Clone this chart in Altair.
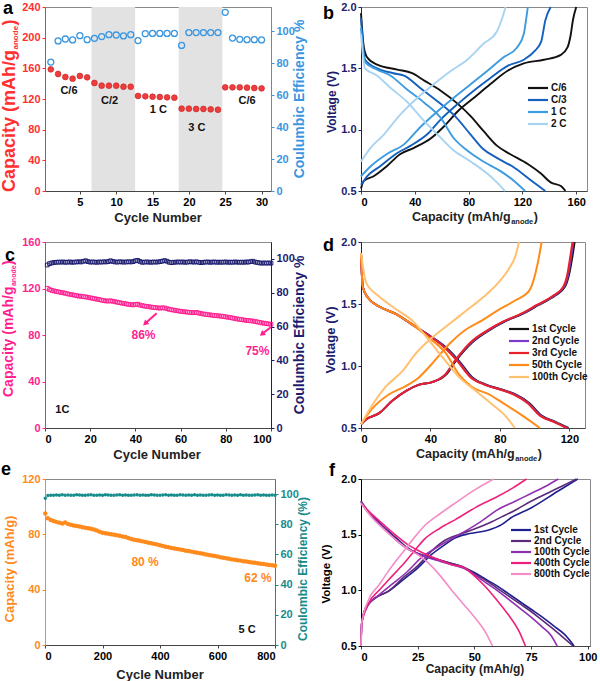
import altair as alt
import pandas as pd

FONT = "Liberation Sans"

# ---------------- data: panel a ----------------
a_cycle = list(range(1, 31))
a_capacity = [158.7, 152.6, 148.7, 146.5, 150.0, 148.3, 140.9, 137.4, 137.4, 137.4, 136.0, 136.0,
              124.0, 123.5, 123.0, 122.6, 122.2, 121.7, 107.4, 107.4, 107.0, 107.0, 106.5, 106.0,
              135.2, 135.2, 135.2, 134.8, 134.3, 133.9]
a_ce = [80.6, 93.8, 95.0, 94.4, 97.1, 94.6, 95.4, 96.5, 97.7, 97.5, 96.9, 97.7,
        94.0, 98.3, 98.5, 98.5, 98.5, 98.5, 91.0, 99.0, 99.0, 99.0, 99.0, 99.0,
        111.7, 95.6, 94.8, 94.6, 94.6, 94.4]
a_band_start = [6.6, 18.6]
a_band_end = [12.6, 24.6]
a_rate_text = ["C/6", "C/2", "1 C", "3 C", "C/6"]
a_rate_x = [3.5, 9.1, 15.8, 21.1, 28.0]
a_rate_y = [130, 117, 106, 82, 117]

# ---------------- data: panel b ----------------
b_series = ["C/6", "C/3", "1 C", "2 C"]
b_colors = ["#111111", "#1560bd", "#3d9be0", "#a8d4f2"]
b_dis_cap = {
    "C/6": [0, 2, 4.5, 12, 27, 38, 47, 59, 72, 81.5, 91, 101, 111, 124, 134, 141, 148.6, 152],
    "C/3": [0, 3, 12, 24, 32, 44, 57, 69, 81.5, 91, 101, 114, 126, 137],
    "1 C": [0, 3, 12, 22, 34, 47, 59, 69, 79, 91, 104, 114, 122],
    "2 C": [0, 3, 12, 22, 34, 47, 57, 69, 81.5, 94, 101, 107],
}
b_dis_v = {
    "C/6": [1.95, 1.68, 1.59, 1.53, 1.49, 1.46, 1.40, 1.32, 1.21, 1.11, 0.99, 0.87, 0.80, 0.72, 0.64, 0.57, 0.54, 0.50],
    "C/3": [1.91, 1.57, 1.50, 1.46, 1.44, 1.34, 1.23, 1.12, 0.96, 0.84, 0.77, 0.69, 0.59, 0.50],
    "1 C": [1.83, 1.55, 1.49, 1.44, 1.33, 1.22, 1.10, 0.93, 0.83, 0.74, 0.66, 0.58, 0.50],
    "2 C": [1.78, 1.50, 1.44, 1.34, 1.23, 1.07, 0.96, 0.83, 0.74, 0.64, 0.57, 0.50],
}
b_chg_cap = {
    "C/6": [0, 2, 9.4, 19, 29, 39, 52, 62, 72, 84, 96, 109, 121, 136, 148.6, 153.5, 156, 157.5, 160],
    "C/3": [0, 4.5, 14, 27, 37, 49, 59, 72, 84, 96, 109, 121, 129, 134, 137, 141],
    "1 C": [0, 7, 19, 32, 44, 57, 69, 81.5, 94, 106, 116, 121, 123, 124],
    "2 C": [0, 7, 17, 29, 42, 54, 67, 79, 91, 101, 105, 107.5],
}
b_chg_v = {
    "C/6": [0.52, 0.58, 0.62, 0.70, 0.80, 0.85, 0.93, 1.03, 1.15, 1.26, 1.37, 1.48, 1.54, 1.57, 1.61, 1.67, 1.78, 1.89, 2.0],
    "C/3": [0.55, 0.62, 0.70, 0.81, 0.87, 0.96, 1.08, 1.21, 1.32, 1.42, 1.52, 1.57, 1.64, 1.72, 1.89, 2.0],
    "1 C": [0.62, 0.70, 0.80, 0.88, 1.02, 1.15, 1.26, 1.37, 1.48, 1.59, 1.67, 1.78, 1.92, 2.0],
    "2 C": [0.74, 0.85, 0.96, 1.12, 1.26, 1.37, 1.48, 1.57, 1.70, 1.80, 1.91, 2.0],
}

# ---------------- data: panel c ----------------
c_cycle = list(range(1, 101))
c_capacity = [
    120.2, 119.1, 118.4, 117.9, 117.5, 117.1, 116.6, 116.3, 115.9, 115.4,
    115.0, 114.6, 114.3, 113.8, 113.5, 113.2, 112.9, 112.8, 112.4, 112.0,
    111.6, 111.2, 110.8, 110.4, 110.0, 109.6, 109.3, 109.2, 109.4, 109.0,
    108.6, 108.2, 107.8, 107.4, 107.1, 106.7, 106.4, 106.1, 105.9, 106.2,
    106.5, 105.8, 105.3, 104.9, 104.6, 104.3, 104.0, 103.7, 103.5, 103.3,
    103.1, 103.4, 103.2, 102.6, 102.1, 101.7, 101.4, 101.0, 100.7, 100.4,
    100.1, 99.9, 99.7, 99.5, 99.3, 99.2, 99.4, 98.9, 98.5, 98.1,
    97.8, 97.5, 97.3, 97.0, 96.8, 96.6, 96.4, 96.2, 95.9, 95.6,
    95.3, 95.0, 94.6, 94.2, 93.8, 93.5, 93.2, 92.9, 92.6, 92.4,
    92.2, 92.0, 91.6, 91.2, 90.8, 90.4, 90.1, 89.8, 89.5, 89.2]
c_ce = [
    96.4, 97.2, 97.6, 97.9, 98.0, 98.1, 98.1, 98.2, 98.0, 98.1,
    98.2, 98.0, 98.1, 98.2, 98.3, 98.2, 98.6, 98.9, 98.4, 98.1,
    98.2, 98.1, 98.0, 98.2, 98.1, 98.3, 98.2, 98.4, 98.9, 98.5,
    98.2, 98.1, 98.3, 98.2, 98.1, 98.2, 98.3, 98.2, 98.4, 98.9,
    99.1, 98.5, 98.0, 98.1, 98.2, 98.1, 98.0, 98.2, 98.1, 98.2,
    98.4, 98.7, 99.0, 98.6, 98.0, 97.8, 98.0, 98.1, 98.2, 98.1,
    98.2, 98.0, 98.1, 98.3, 98.2, 98.1, 98.3, 98.0, 97.8, 98.0,
    98.1, 98.2, 98.0, 98.1, 98.2, 98.0, 98.1, 98.0, 98.1, 98.2,
    98.0, 98.1, 98.0, 98.2, 98.1, 98.0, 98.1, 98.0, 98.2, 98.1,
    98.4, 98.6, 98.1, 97.9, 97.6, 97.5, 97.6, 97.5, 97.6, 97.5]
c_note_text = ["86%", "75%"]
c_note_x = [43.6, 94.0]
c_note_y = [79.6, 66.6]
c_arrow_x0 = [49.4, 99.9]
c_arrow_y0 = [98.8, 86.7]
c_arrow_x1 = [44.3, 96.0]
c_arrow_y1 = [89.8, 80.8]
c_arrow_angle = [228, 232]

# ---------------- data: panel d ----------------
d_series = ["1st Cycle", "2nd Cycle", "3rd Cycle", "50th Cycle", "100th Cycle"]
d_colors = ["#111111", "#7a3cc8", "#e8202a", "#ff8c1a", "#ffc070"]
d_dis_cap = {
    "1st Cycle": [0, 1, 4, 10.5, 20, 30, 39, 49, 56.5, 64, 72, 81, 89, 97, 104, 112, 119.5],
    "2nd Cycle": [0, 1, 4, 10.5, 20, 30, 39, 48.5, 56, 63.5, 71.5, 80.5, 88.5, 96.5, 103.5, 111.5, 119],
    "3rd Cycle": [0, 1, 4, 10.5, 20, 30, 38.5, 48, 55.5, 63, 71, 80, 88, 96, 103, 111, 118.5],
    "50th Cycle": [0, 1, 4, 10.5, 20, 30, 39, 49, 56.5, 64, 74, 83, 93, 103],
    "100th Cycle": [0, 3, 10.5, 20, 30, 39, 47, 56.5, 66, 75.6, 83, 88.6],
}
d_dis_v = {
    "1st Cycle": [1.91, 1.64, 1.55, 1.48, 1.42, 1.33, 1.25, 1.15, 1.04, 0.91, 0.85, 0.81, 0.77, 0.70, 0.60, 0.55, 0.50],
    "2nd Cycle": [1.91, 1.64, 1.55, 1.48, 1.42, 1.33, 1.25, 1.15, 1.04, 0.91, 0.85, 0.81, 0.77, 0.70, 0.60, 0.55, 0.50],
    "3rd Cycle": [1.91, 1.64, 1.55, 1.48, 1.42, 1.33, 1.25, 1.15, 1.04, 0.91, 0.85, 0.81, 0.77, 0.70, 0.60, 0.55, 0.50],
    "50th Cycle": [1.91, 1.64, 1.55, 1.48, 1.42, 1.33, 1.23, 1.10, 0.93, 0.83, 0.77, 0.69, 0.60, 0.50],
    "100th Cycle": [1.91, 1.67, 1.56, 1.46, 1.36, 1.21, 1.07, 0.91, 0.80, 0.69, 0.60, 0.50],
}
d_chg_cap = {
    "1st Cycle": [0, 3, 10.5, 18, 26, 33.5, 41, 49, 54.5, 64, 74, 83, 93, 102, 112, 117.5, 120, 121.7, 123],
    "2nd Cycle": [0, 3, 10.5, 18, 26, 33.5, 41, 48.5, 54, 63.5, 73.5, 82.5, 92.5, 101.5, 111.5, 117, 119.5, 121, 122.3],
    "3rd Cycle": [0, 3, 10.5, 18, 26, 33.5, 41, 48.5, 54, 63, 73, 82, 92, 101, 111, 116.5, 119, 120.5, 121.8],
    "50th Cycle": [0, 6.7, 16, 26, 33.5, 41, 51, 60, 70, 79, 89, 97, 100.5, 102.5, 104],
    "100th Cycle": [0, 6.7, 14, 24, 31.5, 41, 51, 60, 70, 79, 85, 89, 91],
}
d_chg_v = {
    "1st Cycle": [0.53, 0.57, 0.62, 0.72, 0.80, 0.85, 0.87, 0.93, 1.04, 1.19, 1.29, 1.36, 1.42, 1.49, 1.57, 1.64, 1.75, 1.88, 2.0],
    "2nd Cycle": [0.53, 0.57, 0.62, 0.72, 0.80, 0.85, 0.87, 0.93, 1.04, 1.19, 1.29, 1.36, 1.42, 1.49, 1.57, 1.64, 1.75, 1.88, 2.0],
    "3rd Cycle": [0.53, 0.57, 0.62, 0.72, 0.80, 0.85, 0.87, 0.93, 1.04, 1.19, 1.29, 1.36, 1.42, 1.49, 1.57, 1.64, 1.75, 1.88, 2.0],
    "50th Cycle": [0.53, 0.66, 0.77, 0.84, 0.91, 1.02, 1.18, 1.29, 1.37, 1.45, 1.53, 1.61, 1.75, 1.88, 2.0],
    "100th Cycle": [0.53, 0.69, 0.83, 0.96, 1.10, 1.23, 1.34, 1.44, 1.55, 1.67, 1.78, 1.89, 2.0],
}

# ---------------- data: panel e ----------------
e_cycle = [1] + list(range(10, 801, 10))
e_capacity = [
    95.0, 91.6, 90.4, 89.6, 89.0, 88.4, 87.9, 88.6, 87.4, 86.9,
    86.4, 86.0, 85.6, 85.2, 84.8, 84.4, 84.0, 83.5, 82.8, 81.9,
    81.2, 80.8, 80.4, 80.0, 79.7, 79.3, 78.9, 78.5, 78.0, 77.3,
    76.6, 76.1, 75.7, 75.3, 74.9, 74.4, 73.9, 73.5, 73.1, 72.6,
    72.1, 71.6, 71.1, 70.6, 70.2, 69.8, 69.4, 69.0, 68.6, 68.2,
    67.9, 67.5, 67.1, 66.7, 66.3, 65.9, 65.5, 65.1, 64.7, 64.3,
    63.9, 63.5, 63.1, 62.7, 62.3, 61.9, 61.6, 61.3, 61.0, 60.6,
    60.3, 60.0, 59.7, 59.4, 59.1, 58.8, 58.5, 58.2, 57.9, 57.6,
    57.3]
e_ce = [
    97.3, 99.0, 99.2, 99.3, 99.4, 99.2, 99.5, 99.3, 99.4, 99.2,
    99.3, 99.5, 99.4, 99.2, 99.3, 99.4, 99.5, 99.3, 99.2, 99.4,
    99.3, 99.5, 99.4, 99.3, 99.2, 99.4, 99.5, 99.3, 99.4, 99.2,
    99.3, 99.4, 99.5, 99.3, 99.4, 99.2, 99.3, 99.5, 99.4, 99.3,
    99.2, 99.4, 99.5, 99.3, 99.4, 99.2, 99.3, 99.5, 99.4, 99.3,
    99.4, 99.2, 99.5, 99.3, 99.4, 99.3, 99.2, 99.4, 99.5, 99.3,
    99.4, 99.2, 99.3, 99.5, 99.4, 99.3, 99.4, 99.2, 99.5, 99.3,
    99.4, 99.3, 99.2, 99.4, 99.5, 99.3, 99.4, 99.2, 99.3, 99.4,
    99.3]
e_note_text = ["80 %", "62 %"]
e_note_x = [348, 741]
e_note_y = [60, 48.4]

# ---------------- data: panel f ----------------
f_series = ["1st Cycle", "2nd Cycle", "100th Cycle", "400th Cycle", "800th Cycle"]
f_colors = ["#1f1f8f", "#5b2a7a", "#9030b0", "#f0207a", "#f58cc8"]
f_dis_cap = {
    "1st Cycle": [0, 2, 5, 10, 15, 20, 25, 30, 35, 40, 45, 50, 55, 60, 65, 70, 75, 80, 85, 90, 94],
    "2nd Cycle": [0, 2, 5, 10, 15, 20, 25, 30, 35, 40, 45, 50, 55, 60, 65, 70, 75, 80, 85, 89, 93.5],
    "100th Cycle": [0, 5, 10, 15, 20, 25, 30, 35, 40, 45, 50, 55, 60, 65, 70, 75, 80, 84, 86.5],
    "400th Cycle": [0, 5, 10, 15, 20, 25, 30, 35, 40, 45, 50, 55, 60, 65, 70, 72.5],
    "800th Cycle": [0, 5, 10, 15, 20, 25, 30, 35, 40, 45, 50, 55, 58],
}
f_dis_v = {
    "1st Cycle": [1.80, 1.74, 1.67, 1.57, 1.48, 1.39, 1.33, 1.30, 1.27, 1.24, 1.21, 1.16, 1.10, 1.04, 0.97, 0.90, 0.83, 0.76, 0.68, 0.60, 0.50],
    "2nd Cycle": [1.80, 1.73, 1.66, 1.56, 1.47, 1.38, 1.33, 1.30, 1.27, 1.24, 1.21, 1.15, 1.09, 1.02, 0.95, 0.88, 0.81, 0.73, 0.65, 0.58, 0.50],
    "100th Cycle": [1.80, 1.66, 1.56, 1.46, 1.38, 1.33, 1.29, 1.26, 1.23, 1.20, 1.14, 1.07, 1.00, 0.92, 0.84, 0.76, 0.67, 0.59, 0.50],
    "400th Cycle": [1.78, 1.68, 1.59, 1.50, 1.42, 1.36, 1.31, 1.27, 1.23, 1.21, 1.13, 1.03, 0.91, 0.78, 0.62, 0.50],
    "800th Cycle": [1.78, 1.65, 1.55, 1.46, 1.38, 1.32, 1.24, 1.13, 1.00, 0.88, 0.76, 0.62, 0.50],
}
f_chg_cap = {
    "1st Cycle": [0, 0.3, 2, 6.3, 12, 19.5, 25, 31, 37, 41.4, 48, 56, 62, 66, 75, 86.8, 95.6],
    "2nd Cycle": [0, 0.3, 2, 6, 12, 19, 25, 31, 37, 43, 50, 56, 62, 68, 75, 82, 89, 95],
    "100th Cycle": [0, 0.3, 3, 8, 14, 20, 27, 33, 37, 45, 53, 60, 68, 75, 81, 87],
    "400th Cycle": [0, 0.3, 3, 8, 12, 18, 23, 28, 35, 42, 51, 60, 67, 73],
    "800th Cycle": [0, 0.3, 3, 8, 12, 18, 23, 28, 35, 42, 50, 58.5],
}
f_chg_v = {
    "1st Cycle": [0.50, 0.70, 0.84, 0.93, 0.99, 1.11, 1.20, 1.32, 1.41, 1.47, 1.51, 1.54, 1.59, 1.65, 1.74, 1.89, 2.0],
    "2nd Cycle": [0.50, 0.70, 0.84, 0.93, 0.99, 1.12, 1.22, 1.35, 1.45, 1.50, 1.55, 1.60, 1.66, 1.72, 1.80, 1.87, 1.94, 2.0],
    "100th Cycle": [0.50, 0.70, 0.86, 0.96, 1.06, 1.16, 1.30, 1.38, 1.43, 1.52, 1.62, 1.72, 1.80, 1.87, 1.93, 2.0],
    "400th Cycle": [0.50, 0.70, 0.87, 1.00, 1.09, 1.22, 1.34, 1.46, 1.56, 1.64, 1.75, 1.84, 1.92, 2.0],
    "800th Cycle": [0.50, 0.70, 0.90, 1.05, 1.17, 1.33, 1.46, 1.58, 1.69, 1.79, 1.90, 2.0],
}

# ---------------- helpers ----------------
EM = {' ': .278, '(': .333, ')': .333, '/': .278, '%': .889, 'A': .722, 'C': .722, 'E': .667,
      'N': .722, 'V': .667, 'a': .556, 'b': .611, 'c': .556, 'd': .611, 'e': .556, 'f': .333,
      'g': .611, 'h': .611, 'i': .278, 'l': .278, 'm': .889, 'n': .611, 'o': .611, 'p': .611,
      'r': .389, 't': .333, 'u': .611, 'y': .556}


def tw(s, size):
    return sum(EM.get(ch, 0.6) for ch in s) * size


def one():
    return alt.Chart(pd.DataFrame({"k": [0]}))


def txt(s, x, y, size, color, angle=0, align="left", baseline="alphabetic"):
    return one().mark_text(
        text=s, font=FONT, fontWeight="bold", fontSize=size, color=color,
        angle=angle, align=align, baseline=baseline
    ).encode(x=alt.value(x), y=alt.value(y))


def sub_h(main, sub, tail, x0, y, size, ssize, color):
    w1, w2 = tw(main, size), tw(sub, ssize)
    return [txt(main, x0, y, size, color), txt(sub, x0 + w1 + 0.5, y + 3, ssize, color),
            txt(tail, x0 + w1 + w2 + 1, y, size, color)]


def sub_v(main, sub, tail, x, y0, size, ssize, color):
    w1, w2 = tw(main, size), tw(sub, ssize)
    return [txt(main, x, y0, size, color, angle=270),
            txt(sub, x + 3, y0 - w1 - 0.5, ssize, color, angle=270),
            txt(tail, x, y0 - w1 - w2 - 1, size, color, angle=270)]


def legend(names, colors, x0, x1, y0, dy, size=10):
    out = []
    for i, (n, c) in enumerate(zip(names, colors)):
        y = y0 + i * dy
        out.append(one().mark_rule(color=c, strokeWidth=2.2).encode(
            x=alt.value(x0), x2=alt.value(x1), y=alt.value(y)))
        out.append(txt(n, x1 + 3, y, size, "#111", baseline="middle"))
    return out


def curve_df(series, dcap, dv, ccap, cv):
    rows = []
    for s in series:
        for c, v in zip(dcap[s], dv[s]):
            rows.append({"cap": c, "v": v, "series": s, "key": s + "_d"})
        for c, v in zip(ccap[s], cv[s]):
            rows.append({"cap": c, "v": v, "series": s, "key": s + "_c"})
    return pd.DataFrame(rows)


def xaxis(vals, fmt=None):
    kw = dict(values=vals, title=None, labelColor="black", domainColor="#444", tickColor="#444")
    if fmt:
        kw["format"] = fmt
    return alt.Axis(**kw)


def yaxis(vals, color, orient="left", fmt=None):
    kw = dict(values=vals, title=None, labelColor=color, domainColor=color, tickColor=color, orient=orient)
    if fmt:
        kw["format"] = fmt
    return alt.Axis(**kw)


def voltage_lines(df, series, colors, xdom, xvals, ycolor, sw):
    return alt.Chart(df).mark_line(strokeWidth=sw, interpolate="monotone").encode(
        x=alt.X("cap:Q", scale=alt.Scale(domain=xdom, nice=False, zero=False), axis=xaxis(xvals)),
        y=alt.Y("v:Q", scale=alt.Scale(domain=[0.5, 2.0], nice=False, zero=False),
                axis=yaxis([0.5, 1.0, 1.5, 2.0], ycolor, fmt=".1f")),
        color=alt.Color("series:N", scale=alt.Scale(domain=series, range=colors), legend=None),
        detail="key:N",
    )


RED, BLUE = "#f03c3c", "#3a96e0"
PINK, NAVY = "#ff1f8f", "#1c1c70"
ORANGE, TEAL = "#ff8a1c", "#178c8c"
VNAVY = "#1c1c6c"
LETTER = 18

# ---------------- panel a ----------------
Wa, Ha = 226, 184
df_a = pd.DataFrame({"cycle": a_cycle, "cap": a_capacity, "ce": a_ce})
xs_a = alt.Scale(domain=[0.2, 31.3], nice=False, zero=False)
ys_a = alt.Scale(domain=[0, 240], nice=False)
XA = xaxis([5, 10, 15, 20, 25, 30])
YA = yaxis([0, 40, 80, 120, 160, 200, 240], "#ff3030")
bands = alt.Chart(pd.DataFrame({"x0": a_band_start, "x1": a_band_end})).mark_rect(color="#e2e2e2").encode(
    x=alt.X("x0:Q", scale=xs_a, axis=XA), x2="x1:Q", y=alt.value(0), y2=alt.value(Ha))
cap_a = alt.Chart(df_a).mark_point(filled=True, size=34, color=RED, opacity=1, stroke="#c41c1c",
                                   strokeWidth=0.6).encode(
    x=alt.X("cycle:Q", scale=xs_a, axis=XA), y=alt.Y("cap:Q", scale=ys_a, axis=YA))
lbl_a = alt.Chart(pd.DataFrame({"x": a_rate_x, "y": a_rate_y, "t": a_rate_text})).mark_text(
    font=FONT, fontWeight="bold", fontSize=11, color="#111").encode(
    x=alt.X("x:Q", scale=xs_a, axis=XA), y=alt.Y("y:Q", scale=ys_a, axis=YA), text="t:N")
inner_a = alt.layer(bands, cap_a, lbl_a)
ce_a = alt.Chart(df_a).mark_point(filled=False, size=36, color=BLUE, strokeWidth=1.3, opacity=1).encode(
    x=alt.X("cycle:Q", scale=xs_a, axis=XA),
    y=alt.Y("ce:Q", scale=alt.Scale(domain=[0, 115], nice=False),
            axis=yaxis([0, 20, 40, 60, 80, 100], BLUE, orient="right")))
texts_a = sub_v("Capacity (mAh/g", "anode", ")", -30.5, Ha + 1, 18, 8, "#ff3030") + [
    txt("Coulumbic Efficiency %", Wa + 33, Ha / 2, 14, BLUE, angle=270, align="center"),
    txt("Cycle Number", Wa / 2, Ha + 31, 13, "#222", align="center"),
    txt("a", -42, 7, LETTER, "black")]
panel_a = alt.layer(inner_a, ce_a, *texts_a).resolve_scale(y="independent").properties(width=Wa, height=Ha)

# ---------------- panel b ----------------
Wb, Hb = 226, 184
df_b = curve_df(b_series, b_dis_cap, b_dis_v, b_chg_cap, b_chg_v)
lines_b = voltage_lines(df_b, b_series, b_colors, [0, 168], [0, 40, 80, 120, 160], VNAVY, 1.9)
texts_b = [txt("Voltage (V)", -25, 95, 12, VNAVY, angle=270, align="center")] + \
    sub_h("Capacity (mAh/g", "anode", ")", 51, 214, 12.5, 7.5, "#222") + \
    [txt("b", -38, 12, LETTER, "black")] + legend(b_series, b_colors, 167, 187, 81, 12)
panel_b = alt.layer(lines_b, *texts_b).properties(width=Wb, height=Hb)

# ---------------- panel c ----------------
Wc, Hc = 226, 186
df_c = pd.DataFrame({"cycle": c_cycle, "cap": c_capacity, "ce": c_ce})
xs_c = alt.Scale(domain=[0, 100], nice=False)
ys_c = alt.Scale(domain=[0, 160], nice=False)
XC = xaxis([0, 20, 40, 60, 80, 100])
YC = yaxis([0, 40, 80, 120, 160], PINK)
cap_c = alt.Chart(df_c).mark_point(shape="square", filled=False, size=14, color=PINK, strokeWidth=1,
                                   opacity=1).encode(
    x=alt.X("cycle:Q", scale=xs_c, axis=XC), y=alt.Y("cap:Q", scale=ys_c, axis=YC))
notes_c = alt.Chart(pd.DataFrame({"x": c_note_x, "y": c_note_y, "t": c_note_text})).mark_text(
    font=FONT, fontWeight="bold", fontSize=12, color=PINK).encode(
    x=alt.X("x:Q", scale=xs_c, axis=XC), y=alt.Y("y:Q", scale=ys_c, axis=YC), text="t:N")
arrow_df = pd.DataFrame({"x0": c_arrow_x0, "y0": c_arrow_y0, "x1": c_arrow_x1, "y1": c_arrow_y1,
                         "ang": c_arrow_angle})
arrows_c = alt.Chart(arrow_df).mark_rule(color=PINK, strokeWidth=2).encode(
    x=alt.X("x0:Q", scale=xs_c, axis=XC), y=alt.Y("y0:Q", scale=ys_c, axis=YC), x2="x1:Q", y2="y1:Q")
heads_c = alt.Chart(arrow_df).mark_point(shape="triangle-up", filled=True, size=40, color=PINK,
                                         opacity=1).encode(
    x=alt.X("x1:Q", scale=xs_c, axis=XC), y=alt.Y("y1:Q", scale=ys_c, axis=YC),
    angle=alt.Angle("ang:Q", scale=None))
onec = alt.Chart(pd.DataFrame({"x": [7.7], "y": [15.6], "t": ["1C"]})).mark_text(
    font=FONT, fontWeight="bold", fontSize=11, color="#111").encode(
    x=alt.X("x:Q", scale=xs_c, axis=XC), y=alt.Y("y:Q", scale=ys_c, axis=YC), text="t:N")
inner_c = alt.layer(cap_c, arrows_c, heads_c, notes_c, onec)
ce_c = alt.Chart(df_c).mark_point(shape="square", filled=False, size=14, color=NAVY, strokeWidth=1,
                                  opacity=1).encode(
    x=alt.X("cycle:Q", scale=xs_c, axis=XC),
    y=alt.Y("ce:Q", scale=alt.Scale(domain=[0, 110], nice=False),
            axis=yaxis([0, 20, 40, 60, 80, 100], NAVY, orient="right")))
texts_c = sub_v("Capacity (mAh/g", "anode", ")", -32.5, 155, 14, 7, PINK) + [
    txt("Coulumbic Efficiency %", Wc + 33, Hc / 2, 14, NAVY, angle=270, align="center"),
    txt("Cycle Number", 112, 217, 13, "#222", align="center"),
    txt("c", -40, 19, LETTER, "black")]
panel_c = alt.layer(inner_c, ce_c, *texts_c).resolve_scale(y="independent").properties(width=Wc, height=Hc)

# ---------------- panel d ----------------
Wd, Hd = 224, 186
df_d = curve_df(d_series, d_dis_cap, d_dis_v, d_chg_cap, d_chg_v)
lines_d = voltage_lines(df_d, d_series, d_colors, [0, 129], [0, 40, 80, 120], VNAVY, 2.0)
texts_d = [txt("Voltage (V)", -26, 98, 13, VNAVY, angle=270, align="center")] + \
    sub_h("Capacity (mAh/g", "anode", ")", 55, 216, 12.5, 7.5, "#222") + \
    [txt("d", -38, 9, LETTER, "black")] + legend(d_series, d_colors, 148, 168, 87, 12)
panel_d = alt.layer(lines_d, *texts_d).properties(width=Wd, height=Hd)

# ---------------- panel e ----------------
We, He = 230, 166
df_e = pd.DataFrame({"cycle": e_cycle, "cap": e_capacity, "ce": e_ce})
xs_e = alt.Scale(domain=[0, 800], nice=False)
ys_e = alt.Scale(domain=[0, 120], nice=False)
XE = xaxis([0, 200, 400, 600, 800])
YE = yaxis([0, 40, 80, 120], ORANGE)
cap_e = alt.Chart(df_e).mark_point(filled=True, size=20, color=ORANGE, opacity=1).encode(
    x=alt.X("cycle:Q", scale=xs_e, axis=XE), y=alt.Y("cap:Q", scale=ys_e, axis=YE))
notes_e = alt.Chart(pd.DataFrame({"x": e_note_x, "y": e_note_y, "t": e_note_text})).mark_text(
    font=FONT, fontWeight="bold", fontSize=12, color=ORANGE).encode(
    x=alt.X("x:Q", scale=xs_e, axis=XE), y=alt.Y("y:Q", scale=ys_e, axis=YE), text="t:N")
fivec = alt.Chart(pd.DataFrame({"x": [703], "y": [10.8], "t": ["5 C"]})).mark_text(
    font=FONT, fontWeight="bold", fontSize=11, color="#111").encode(
    x=alt.X("x:Q", scale=xs_e, axis=XE), y=alt.Y("y:Q", scale=ys_e, axis=YE), text="t:N")
inner_e = alt.layer(cap_e, notes_e, fivec)
ce_e = alt.Chart(df_e).mark_point(filled=True, size=12, color=TEAL, opacity=1).encode(
    x=alt.X("cycle:Q", scale=xs_e, axis=XE),
    y=alt.Y("ce:Q", scale=alt.Scale(domain=[0, 110], nice=False),
            axis=yaxis([0, 20, 40, 60, 80, 100], TEAL, orient="right")))
texts_e = [txt("Capacity (mAh/g)", -31, 90, 13, ORANGE, angle=270, align="center"),
           txt("Coulombic Efficiency (%)", We + 32, 90, 12, TEAL, angle=270, align="center"),
           txt("Cycle Number", 115, 200, 13, "#222", align="center"),
           txt("e", -44, -4, LETTER, "black")]
panel_e = alt.layer(inner_e, ce_e, *texts_e).resolve_scale(y="independent").properties(width=We, height=He)

# ---------------- panel f ----------------
Wf, Hf = 229, 167
df_f = curve_df(f_series, f_dis_cap, f_dis_v, f_chg_cap, f_chg_v)
lines_f = voltage_lines(df_f, f_series, f_colors, [0, 101], [0, 25, 50, 75, 100], "black", 1.6)
texts_f = [txt("Voltage (V)", -31, 95, 11.5, "black", angle=270, align="center"),
           txt("Capacity (mAh/g)", 114, 194, 12, "#222", align="center"),
           txt("f", -32, -3, LETTER, "black")] + legend(f_series, f_colors, 150, 170, 51, 11)
panel_f = alt.layer(lines_f, *texts_f).properties(width=Wf, height=Hf)

chart = alt.concat(panel_a, panel_b, panel_c, panel_d, panel_e, panel_f,
                   columns=2, spacing={"row": 51, "column": 86}, bounds="flush", align="each"
                   ).resolve_scale(color="independent").properties(
    padding={"left": -1, "top": -1, "right": 0, "bottom": 0}, background="white"
).configure(font=FONT).configure_view(stroke="#8a8a8a", strokeWidth=1).configure_axis(
    labelFont=FONT, labelFontWeight="bold", labelFontSize=11, grid=False, ticks=True, tickSize=3,
    labelPadding=2, domainWidth=1)

chart.save("out.html", embed_options={"renderer": "svg", "actions": False})
